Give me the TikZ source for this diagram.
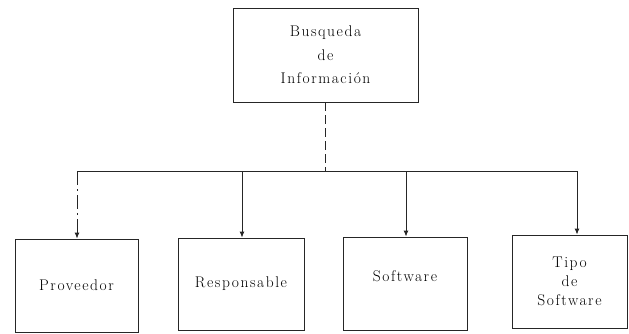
\documentclass[tikz,border=0pt]{standalone}
\usepackage{fontspec}
\setmainfont{Latin Modern Roman}[LetterSpace=10]
\usetikzlibrary{arrows.meta}
\tikzset{
  box/.style={draw=black!85, line width=0.9pt, rectangle, align=center,
    inner sep=0pt, font=\fontsize{15.5}{23.5}\selectfont},
  link/.style={draw=black!85, line width=0.9pt},
  tip/.style={-{Latex[length=6pt,width=5pt]}}
}
\begin{document}
\begin{tikzpicture}[x=1pt,y=-1pt]
\useasboundingbox (0,0) rectangle (629,333);
% root of the hierarchy
\node[box, minimum width=185, minimum height=94] (root) at (325.5,55)
  {Busqueda\\de\\Información};
% second level
\node[box, minimum width=123, minimum height=93] (prov) at (76.5,285.5) {Proveedor};
\node[box, minimum width=126, minimum height=92] (resp) at (241,284) {Responsable};
\node[box, minimum width=124, minimum height=93, text depth=14pt] (soft) at (405,283.5) {Software};
\node[box, minimum width=115, minimum height=93] (tipo) at (569.5,281.5)
  {Tipo\\[-4.5pt]de\\[-4.5pt]Software};
% branch points on the distribution bar
\coordinate (stem) at (325,171);
\coordinate (bprov) at (77,171);
\coordinate (bresp) at (242,171);
\coordinate (bsoft) at (406,171);
\coordinate (btipo) at (577,171);
% connectors
\draw[link, dashed, dash pattern=on 9pt off 4pt] (root.south -| stem) -- (stem);
\draw[link] (bprov) -- (btipo);
\draw[link, tip, dash pattern=on 14pt off 4pt on 2pt off 4pt] (bprov) -- (prov.north -| bprov);
\draw[link, tip] (bresp) -- (resp.north -| bresp);
\draw[link, tip] (bsoft) -- (soft.north -| bsoft);
\draw[link, tip] (btipo) -- (tipo.north -| btipo);
\end{tikzpicture}
\end{document}
